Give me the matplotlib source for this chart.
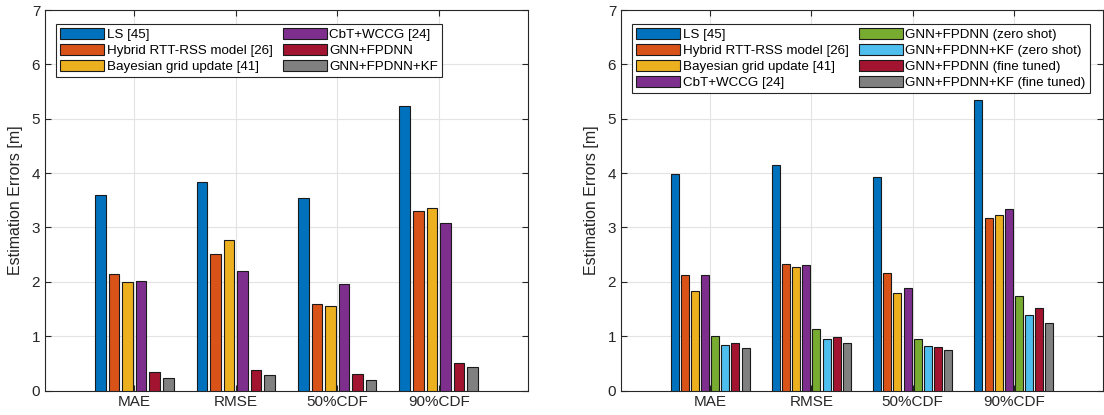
import numpy as np
import matplotlib.pyplot as plt

plt.rcParams['font.family'] = ['Liberation Sans', 'DejaVu Sans']

metrics = ['MAE', 'RMSE', '50%CDF', '90%CDF']

# left panel
left_labels = ['LS [45]', 'Hybrid RTT-RSS model [26]', 'Bayesian grid update [41]',
               'CbT+WCCG [24]', 'GNN+FPDNN', 'GNN+FPDNN+KF']
ls_l = [3.59, 3.83, 3.55, 5.24]
hybrid_l = [2.15, 2.51, 1.59, 3.31]
bayes_l = [1.99, 2.77, 1.55, 3.35]
cbt_l = [2.02, 2.19, 1.96, 3.09]
gnn_l = [0.34, 0.37, 0.31, 0.50]
gnn_kf_l = [0.23, 0.29, 0.19, 0.43]

# right panel
right_labels = ['LS [45]', 'Hybrid RTT-RSS model [26]', 'Bayesian grid update [41]',
                'CbT+WCCG [24]', 'GNN+FPDNN (zero shot)', 'GNN+FPDNN+KF (zero shot)',
                'GNN+FPDNN (fine tuned)', 'GNN+FPDNN+KF (fine tuned)']
ls_r = [3.99, 4.15, 3.92, 5.34]
hybrid_r = [2.13, 2.32, 2.17, 3.18]
bayes_r = [1.83, 2.27, 1.79, 3.22]
cbt_r = [2.12, 2.31, 1.89, 3.33]
gnn_zs = [1.00, 1.14, 0.94, 1.73]
gnn_kf_zs = [0.83, 0.94, 0.81, 1.39]
gnn_ft = [0.87, 0.99, 0.80, 1.52]
gnn_kf_ft = [0.79, 0.87, 0.74, 1.25]

colors_l = ['#0072BD', '#D95319', '#EDB120', '#7E2F8E', '#A2142F', '#808080']
colors_r = ['#0072BD', '#D95319', '#EDB120', '#7E2F8E', '#77AC30', '#4DBEEE',
            '#A2142F', '#808080']

txt = '#262626'


def grouped_bars(ax, series, labels, colors):
    n = len(series)
    x = np.arange(1, len(metrics) + 1)
    group_w = min(0.8, n / (n + 1.5))
    step = group_w / n
    for k, vals in enumerate(series):
        offs = (k - (n - 1) / 2) * step
        ax.bar(x + offs, vals, width=step * 0.8, color=colors[k],
               edgecolor='#1a1a1a', linewidth=0.8, label=labels[k], zorder=3)
    ax.set_xticks(x)
    ax.set_xticklabels(metrics)
    ax.set_xlim(0.12, 4.88)
    ax.set_ylim(0, 7)
    ax.set_yticks(range(0, 8))
    ax.set_ylabel('Estimation Errors [m]', fontsize=11.5, color=txt, labelpad=6)
    ax.grid(True, color='#e3e3e3', linewidth=0.8, zorder=0)
    ax.tick_params(direction='in', top=True, right=True, length=4,
                   labelsize=11, colors=txt, width=0.8)
    for s in ax.spines.values():
        s.set_color(txt)
        s.set_linewidth(0.8)
    leg = ax.legend(ncol=2, loc='upper left', bbox_to_anchor=(0.015, 0.975),
                    fontsize=9.6, frameon=True, fancybox=False, framealpha=1,
                    edgecolor=txt, handlelength=3.3, handleheight=0.95,
                    handletextpad=0.2, labelspacing=0.2, columnspacing=0.75,
                    borderpad=0.3, borderaxespad=0.3)
    leg.get_frame().set_linewidth(0.8)
    for t in leg.get_texts():
        t.set_color('black')


fig = plt.figure(figsize=(11.04, 4.15), dpi=100)
ax1 = fig.add_axes([45 / 1104, 1 - 390.5 / 415, (528 - 45) / 1104, 380.5 / 415])
ax2 = fig.add_axes([621 / 1104, 1 - 390.5 / 415, (1103 - 621) / 1104, 380.5 / 415])

grouped_bars(ax1, [ls_l, hybrid_l, bayes_l, cbt_l, gnn_l, gnn_kf_l], left_labels, colors_l)
grouped_bars(ax2, [ls_r, hybrid_r, bayes_r, cbt_r, gnn_zs, gnn_kf_zs, gnn_ft, gnn_kf_ft],
             right_labels, colors_r)

fig.savefig('out.png', dpi=100)
